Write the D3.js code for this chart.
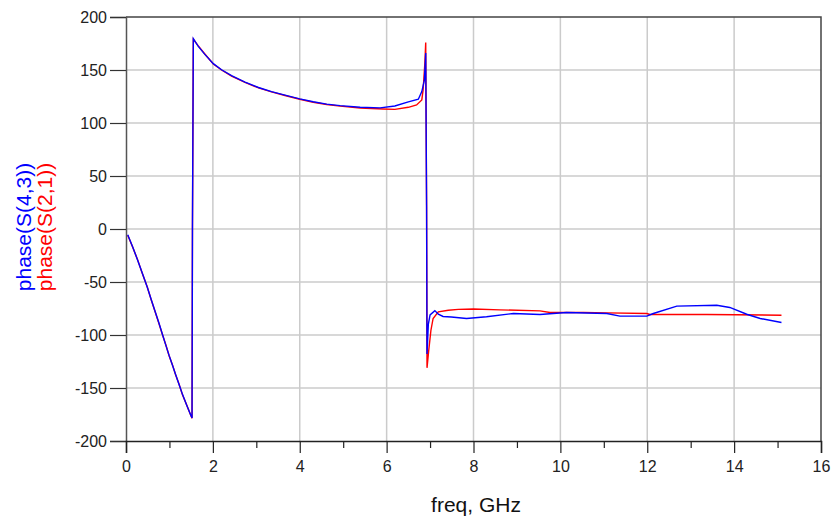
<!DOCTYPE html>
<html>
<head>
<meta charset="utf-8">
<script src="https://cdn.jsdelivr.net/npm/d3@7"></script>
<style>
  html, body { margin: 0; padding: 0; background: #fff; }
  svg { display: block; font-family: "Liberation Sans", Arial, sans-serif; }
</style>
</head>
<body>
<svg id="chart" width="833" height="525"></svg>
<script>
// Phase of S(4,3) versus frequency
const freqS43 = [0.04,0.15,0.26,0.37,0.49,0.58,0.68,0.76,0.84,0.92,0.99,1.07,1.14,1.22,1.30,1.40,1.49,1.52,1.53,1.55,1.66,1.82,2.01,2.20,2.43,2.74,3.05,3.35,3.66,4.00,4.31,4.62,4.93,5.39,5.85,6.19,6.50,6.73,6.81,6.87,6.90,6.92,6.93,6.96,7.00,7.11,7.19,7.30,7.49,7.84,8.30,8.92,9.53,10.14,11.07,11.37,11.99,12.14,12.68,13.60,13.90,14.29,14.60,15.09];
const phaseS43 = [-5.5,-16.5,-28.5,-41,-55,-66.5,-79,-89,-99.5,-110,-119,-128.5,-137,-146.5,-156,-166.5,-175.5,-178.3,0.5,179.5,172.5,164.5,156,150.2,144.6,138.6,133.5,129.6,126.3,122.8,120,117.8,116.4,114.8,114.3,116,120,122.4,129.6,140.6,166,22,-118,-90,-81,-77,-80.4,-82.5,-83,-84.4,-82.8,-79.7,-80.6,-78.8,-79.7,-82.2,-82.2,-79.7,-72.8,-71.9,-74,-80.4,-84.4,-88.2];

// Phase of S(2,1) versus frequency
const freqS21 = [0.04,0.15,0.26,0.37,0.49,0.58,0.68,0.76,0.84,0.92,0.99,1.07,1.14,1.22,1.30,1.40,1.49,1.52,1.53,1.55,1.66,1.82,2.01,2.20,2.43,2.74,3.05,3.35,3.66,4.00,4.31,4.62,4.93,5.39,5.92,6.19,6.50,6.69,6.81,6.84,6.88,6.90,6.92,6.93,6.97,7.02,7.07,7.19,7.42,7.65,8.00,8.61,9.53,9.76,10.53,11.07,11.99,12.06,13.37,15.09];
const phaseS21 = [-5.8,-16.8,-28.2,-41.3,-54.7,-66.8,-79.3,-89.3,-99.8,-109.7,-119.3,-128.2,-137.3,-146.2,-156.3,-166.2,-175.8,-178.6,0.3,179,173,164.9,155.7,150,144.3,138.3,133.1,129.3,125.9,122.4,119.6,117.4,115.9,114.2,113.2,112.9,114.8,117,121.8,131.2,156.4,176,22.6,-131,-114.4,-95.5,-84.4,-78.2,-76.6,-75.8,-75.5,-76.3,-77.2,-78.8,-78.8,-79.1,-79.7,-80.6,-80.6,-81.3];

const xTicks = [0, 2, 4, 6, 8, 10, 12, 14, 16];
const xMinorTicks = [1, 3, 5, 7, 9, 11, 13, 15];
const yTicks = [-200, -150, -100, -50, 0, 50, 100, 150, 200];

const plotLeft = 126, plotRight = 821, plotTop = 17, plotBottom = 441;
const svg = d3.select("#chart");

const x = d3.scaleLinear().domain([0, 16]).range([plotLeft, plotRight]);
const y = d3.scaleLinear().domain([-200, 200]).range([plotBottom, plotTop]);

// grid
const grid = svg.append("g").attr("stroke", "#cbcbcb").attr("stroke-width", 1.5);
grid.selectAll("line.gx").data(xTicks.filter(d => d > 0 && d < 16)).join("line")
  .attr("x1", d => x(d)).attr("x2", d => x(d)).attr("y1", plotTop).attr("y2", plotBottom);
grid.selectAll("line.gy").data(yTicks.filter(d => d > -200 && d < 200)).join("line")
  .attr("x1", plotLeft).attr("x2", plotRight).attr("y1", d => y(d)).attr("y2", d => y(d));

// frame top and right
svg.append("path")
  .attr("d", `M${plotLeft},${plotTop}H${plotRight}V${plotBottom}`)
  .attr("fill", "none").attr("stroke", "#444").attr("stroke-width", 1.5);

// y axis
const yAxis = svg.append("g").attr("transform", `translate(${plotLeft},0)`)
  .call(d3.axisLeft(y).tickValues(yTicks).tickSize(16).tickPadding(3).tickFormat(d3.format("d")));
yAxis.select(".domain").attr("stroke", "#555").attr("stroke-width", 1.5);
yAxis.selectAll(".tick line").attr("stroke", "#333").attr("stroke-width", 1.2);
yAxis.selectAll(".tick text").attr("font-size", 16).attr("fill", "#222")
  .attr("font-family", "Liberation Sans, Arial, sans-serif")
  .text(d => String(d));

// x axis
const xAxis = svg.append("g").attr("transform", `translate(0,${plotBottom})`)
  .call(d3.axisBottom(x).tickValues(xTicks).tickSize(12).tickPadding(8).tickFormat(d3.format("d")));
xAxis.select(".domain").attr("stroke", "#222").attr("stroke-width", 1.5);
xAxis.selectAll(".tick line").attr("stroke", "#222").attr("stroke-width", 1.2);
xAxis.selectAll(".tick text").attr("font-size", 16).attr("fill", "#222")
  .attr("font-family", "Liberation Sans, Arial, sans-serif");
svg.append("g").attr("transform", `translate(0,${plotBottom})`)
  .call(d3.axisBottom(x).tickValues(xMinorTicks).tickSize(7).tickFormat(""))
  .call(g => g.select(".domain").remove())
  .selectAll(".tick line").attr("stroke", "#222").attr("stroke-width", 1.2);

// traces
const line = d3.line().x(d => x(d[0])).y(d => y(d[1]));
const s21 = freqS21.map((f, i) => [f, phaseS21[i]]);
const s43 = freqS43.map((f, i) => [f, phaseS43[i]]);
svg.append("path").datum(s21).attr("d", line)
  .attr("fill", "none").attr("stroke", "#ff0000").attr("stroke-width", 1.4);
svg.append("path").datum(s43).attr("d", line)
  .attr("fill", "none").attr("stroke", "#0000ff").attr("stroke-width", 1.4);

// axis titles
svg.append("text").attr("x", 476).attr("y", 512).attr("text-anchor", "middle")
  .attr("font-size", 21).attr("fill", "#111").text("freq, GHz");
svg.append("text").attr("transform", "translate(31,227) rotate(-90)").attr("text-anchor", "middle")
  .attr("font-size", 21).attr("fill", "#0000ff").text("phase(S(4,3))");
svg.append("text").attr("transform", "translate(52,227) rotate(-90)").attr("text-anchor", "middle")
  .attr("font-size", 21).attr("fill", "#ff0000").text("phase(S(2,1))");
</script>
</body>
</html>
